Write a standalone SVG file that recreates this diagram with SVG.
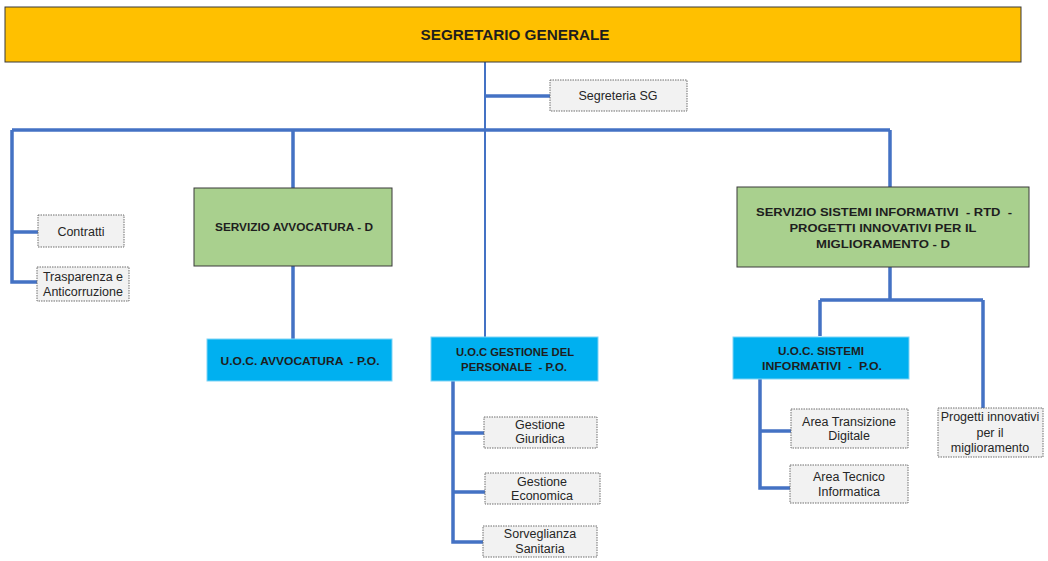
<svg xmlns="http://www.w3.org/2000/svg" width="1048" height="561" viewBox="0 0 1048 561">
<style>
.head{fill:#FFC000;stroke:#3a3a3a;stroke-width:1}
.green{fill:#A9D08E;stroke:#3a3a3a;stroke-width:1}
.cyan{fill:#00B0F0;stroke:#7fd3f5;stroke-width:1}
.small{fill:#F2F2F2;stroke:#6e6e6e;stroke-width:1;stroke-dasharray:1.5 1}
.tb{font-family:"Liberation Sans",Arial,sans-serif;font-weight:bold;fill:#1e1e1e;text-anchor:middle}
.ts{font-family:"Liberation Sans",Arial,sans-serif;font-size:12.5px;fill:#262626;text-anchor:middle}
.c{fill:none;stroke:#4472C4;stroke-width:3.5}
.c2{fill:none;stroke:#4472C4;stroke-width:2}
</style>
<rect width="1048" height="561" fill="#ffffff"/>
<g id="connectors">
<path class="c2" d="M485 62 V337"/>
<path class="c" d="M485 96 H550"/>
<path class="c" d="M12 130 H890"/>
<path class="c" d="M12 130 V282 H37 M12 232 H38"/>
<path class="c" d="M293 130 V188 M293 266 V339"/>
<path class="c" d="M890 130 V187 M890 267 V300 M820 300 H983 M820 300 V336 M983 300 V408"/>
<path class="c" d="M453 381 V542 H483 M453 433 H484 M453 492 H485"/>
<path class="c" d="M760 379 V488 H790 M760 431 H791"/>
</g>
<g id="segretario-generale">
<rect class="head" x="5" y="7" width="1016" height="55"/>
<text class="tb" x="515" y="40" font-size="15" textLength="189" lengthAdjust="spacingAndGlyphs">SEGRETARIO GENERALE</text>
</g>
<g id="segreteria-sg">
<rect class="small" x="550" y="80" width="137" height="31"/>
<text class="ts" x="618" y="100">Segreteria SG</text>
</g>
<g id="contratti">
<rect class="small" x="38" y="215" width="86" height="32"/>
<text class="ts" x="81" y="236">Contratti</text>
</g>
<g id="trasparenza">
<rect class="small" x="37" y="267" width="92" height="34"/>
<text class="ts" x="83" y="281">Trasparenza e</text>
<text class="ts" x="83" y="296">Anticorruzione</text>
</g>
<g id="servizio-avvocatura">
<rect class="green" x="194" y="188" width="198" height="78"/>
<text class="tb" x="294" y="231" font-size="11" textLength="158" lengthAdjust="spacingAndGlyphs">SERVIZIO AVVOCATURA - D</text>
</g>
<g id="uoc-avvocatura">
<rect class="cyan" x="207" y="339" width="185" height="42"/>
<text class="tb" x="300" y="365" font-size="11" textLength="159" lengthAdjust="spacingAndGlyphs" xml:space="preserve">U.O.C. AVVOCATURA  - P.O.</text>
</g>
<g id="uoc-gestione-personale">
<rect class="cyan" x="431" y="337" width="167" height="44"/>
<text class="tb" x="515" y="356" font-size="11" textLength="118" lengthAdjust="spacingAndGlyphs">U.O.C GESTIONE DEL</text>
<text class="tb" x="514" y="371" font-size="11" textLength="106" lengthAdjust="spacingAndGlyphs" xml:space="preserve">PERSONALE  - P.O.</text>
</g>
<g id="gestione-giuridica">
<rect class="small" x="484" y="417" width="113" height="31"/>
<text class="ts" x="540" y="429">Gestione</text>
<text class="ts" x="540" y="443">Giuridica</text>
</g>
<g id="gestione-economica">
<rect class="small" x="485" y="473" width="115" height="31"/>
<text class="ts" x="542" y="486">Gestione</text>
<text class="ts" x="542" y="500">Economica</text>
</g>
<g id="sorveglianza-sanitaria">
<rect class="small" x="483" y="526" width="114" height="31"/>
<text class="ts" x="540" y="538">Sorveglianza</text>
<text class="ts" x="540" y="553">Sanitaria</text>
</g>
<g id="servizio-sistemi-informativi">
<rect class="green" x="737" y="187" width="292" height="80"/>
<text class="tb" x="884" y="216" font-size="11" textLength="256" lengthAdjust="spacingAndGlyphs" xml:space="preserve">SERVIZIO SISTEMI INFORMATIVI  - RTD  -</text>
<text class="tb" x="883" y="232" font-size="11" textLength="187" lengthAdjust="spacingAndGlyphs">PROGETTI INNOVATIVI PER IL</text>
<text class="tb" x="883" y="248" font-size="11" textLength="134" lengthAdjust="spacingAndGlyphs">MIGLIORAMENTO - D</text>
</g>
<g id="uoc-sistemi-informativi">
<rect class="cyan" x="733" y="337" width="176" height="42"/>
<text class="tb" x="821" y="355" font-size="11" textLength="86" lengthAdjust="spacingAndGlyphs">U.O.C. SISTEMI</text>
<text class="tb" x="822" y="370" font-size="11" textLength="120" lengthAdjust="spacingAndGlyphs" xml:space="preserve">INFORMATIVI  -  P.O.</text>
</g>
<g id="area-transizione-digitale">
<rect class="small" x="791" y="409" width="117" height="39"/>
<text class="ts" x="849" y="426">Area Transizione</text>
<text class="ts" x="849" y="440">Digitale</text>
</g>
<g id="area-tecnico-informatica">
<rect class="small" x="790" y="465" width="118" height="38"/>
<text class="ts" x="849" y="481">Area Tecnico</text>
<text class="ts" x="849" y="496">Informatica</text>
</g>
<g id="progetti-innovativi">
<rect class="small" x="938" y="408" width="105" height="49"/>
<text class="ts" x="990" y="421">Progetti innovativi</text>
<text class="ts" x="990" y="437">per il</text>
<text class="ts" x="990" y="452">miglioramento</text>
</g>
</svg>
